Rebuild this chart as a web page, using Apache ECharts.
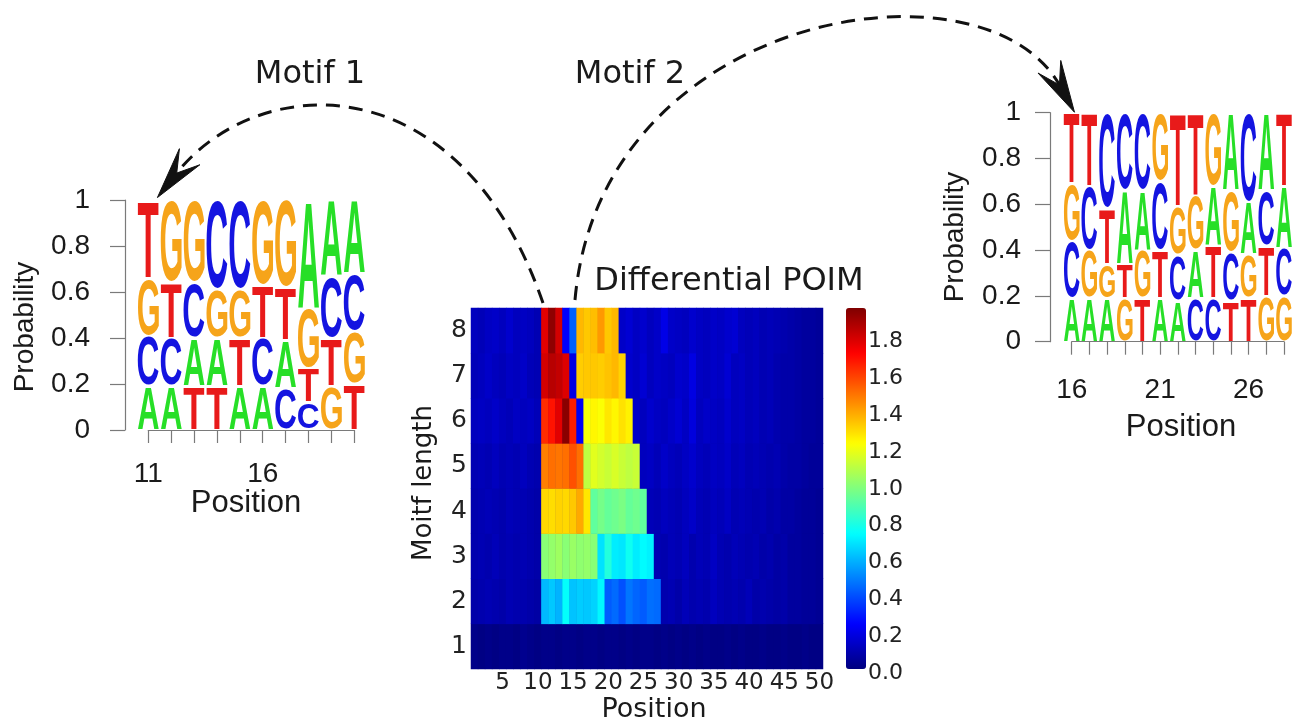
<!DOCTYPE html>
<html>
<head>
<meta charset="utf-8">
<script src="https://cdn.jsdelivr.net/npm/echarts@6/dist/echarts.min.js"></script>
<style>
  html, body { margin: 0; padding: 0; background: #ffffff; }
  #chart { width: 1301px; height: 726px; }
</style>
</head>
<body>
<div id="chart"></div>
<script>
// ---------------- Differential POIM (motif length x position) ----------------
const positions = ['1','2','3','4','5','6','7','8','9','10','11','12','13','14','15','16','17','18','19','20',
  '21','22','23','24','25','26','27','28','29','30','31','32','33','34','35','36','37','38','39','40',
  '41','42','43','44','45','46','47','48','49','50'];
const motifLengths = ['1','2','3','4','5','6','7','8'];

const len1 = [0.02,0.01,0.02,0.01,0.02,0.02,0.01,0.03,0.02,0.01, 0.02,0.02,0.01,0.02,0.02,0.01,0.02,0.02,0.01,0.02,
  0.02,0.01,0.02,0.01,0.02,0.02,0.01,0.02,0.01,0.02, 0.01,0.02,0.01,0.02,0.01,0.01,0.02,0.01,0.02,0.01,
  0.01,0.02,0.01,0.01,0.02,0.01,0.01,0.02,0.01,0.01];
const len2 = [0.08,0.09,0.10,0.09,0.08,0.10,0.09,0.09,0.08,0.07,
  0.60,0.63,0.59,0.74,0.62,0.64,0.63,0.65,0.72,0.42,0.45,0.40,0.47,0.44,0.42,0.46,0.45,
  0.09,0.10,0.08,0.11,0.09,0.10,0.09,0.12,0.10,0.09,0.10,0.09,0.11,0.08,0.09,0.08,0.07,0.08,0.06,0.06,0.05,0.05,0.04];
const len3 = [0.09,0.10,0.09,0.11,0.09,0.10,0.09,0.10,0.09,0.08,
  1.00,1.02,1.04,1.00,1.03,1.01,1.02,1.00,0.68,0.80,0.70,0.69,0.76,0.70,0.73,0.71,
  0.10,0.09,0.11,0.10,0.12,0.09,0.11,0.10,0.13,0.10,0.09,0.11,0.10,0.09,0.10,0.08,0.09,0.07,0.08,0.06,0.06,0.05,0.05,0.04];
const len4 = [0.09,0.10,0.11,0.10,0.09,0.11,0.10,0.10,0.09,0.08,
  1.30,1.29,1.31,1.30,1.33,1.39,1.27,0.92,0.96,0.93,0.95,0.97,0.93,0.95,0.92,
  0.11,0.10,0.12,0.11,0.10,0.12,0.14,0.11,0.10,0.12,0.11,0.13,0.10,0.11,0.10,0.09,0.10,0.08,0.09,0.07,0.07,0.06,0.05,0.05,0.04];
const len5 = [0.10,0.11,0.10,0.12,0.10,0.11,0.10,0.12,0.10,0.09,
  1.47,1.50,1.49,1.50,1.56,1.50,1.10,1.17,1.14,1.12,1.15,1.12,1.10,1.12,
  0.12,0.13,0.11,0.14,0.12,0.11,0.13,0.15,0.12,0.11,0.13,0.12,0.14,0.11,0.12,0.10,0.11,0.10,0.09,0.10,0.08,0.07,0.07,0.06,0.05,0.05];
const len6 = [0.12,0.13,0.12,0.14,0.12,0.11,0.13,0.12,0.13,0.11,
  1.63,1.68,1.77,1.94,1.66,0.23,1.21,1.24,1.22,1.27,1.24,1.28,1.25,
  0.14,0.12,0.15,0.13,0.12,0.14,0.16,0.13,0.18,0.12,0.14,0.13,0.12,0.15,0.12,0.13,0.11,0.12,0.10,0.11,0.09,0.08,0.08,0.07,0.06,0.06,0.05];
const len7 = [0.11,0.12,0.14,0.12,0.11,0.13,0.12,0.14,0.11,0.10,
  1.80,1.85,1.83,1.78,0.19,1.32,1.33,1.33,1.32,1.34,1.36,1.31,
  0.15,0.13,0.16,0.12,0.14,0.13,0.12,0.15,0.14,0.19,0.13,0.12,0.14,0.13,0.16,0.12,0.13,0.11,0.12,0.10,0.11,0.09,0.08,0.08,0.07,0.06,0.06,0.05];
const len8 = [0.12,0.11,0.13,0.14,0.12,0.15,0.12,0.13,0.12,0.10,
  1.77,1.93,1.80,0.24,0.43,1.36,1.33,1.35,1.42,1.33,1.36,
  0.14,0.16,0.13,0.15,0.12,0.14,0.20,0.14,0.13,0.12,0.15,0.13,0.12,0.14,0.13,0.15,0.16,0.12,0.11,0.12,0.10,0.11,0.10,0.09,0.08,0.07,0.06,0.06,0.05];

const colorbarMax = 1.96;
const colorbarTicks = ['0.0','0.2','0.4','0.6','0.8','1.0','1.2','1.4','1.6','1.8'];

// ---------------- Sequence logos (letters listed bottom to top) ----------------
const motif1Positions = [11,12,13,14,15,16,17,18,19,20];
const motif1Letters = ['ACGT','ACTG','TACG','TAGC','ATGC','ACTG','CATG','CTGA','GTCA','TGCA'];
const motif1Probs = [
  [0.19,0.22,0.25,0.34],[0.19,0.21,0.24,0.36],[0.19,0.21,0.24,0.36],[0.19,0.21,0.21,0.39],
  [0.19,0.21,0.21,0.39],[0.19,0.21,0.23,0.37],[0.18,0.21,0.23,0.38],[0.12,0.15,0.26,0.47],
  [0.19,0.21,0.27,0.33],[0.20,0.23,0.25,0.32]];
const motif1TickLabels = ['11','16'];

const motif2Positions = [16,17,18,19,20,21,22,23,24,25,26,27,28];
const motif2Letters = ['ACGT','AGCT','AGTC','GTAC','TGAC','ATCG','ACGT','CAGT','CTAG','TCGA','TGAC','GTCA','GCAT'];
const motif2Probs = [
  [0.19,0.25,0.25,0.31],[0.19,0.21,0.28,0.32],[0.19,0.15,0.24,0.42],[0.19,0.15,0.32,0.34],
  [0.19,0.21,0.26,0.34],[0.19,0.21,0.30,0.30],[0.18,0.20,0.21,0.41],[0.19,0.21,0.24,0.36],
  [0.19,0.23,0.26,0.32],[0.18,0.21,0.27,0.34],[0.19,0.19,0.23,0.39],[0.20,0.22,0.24,0.34],
  [0.20,0.21,0.27,0.32]];
const motif2TickLabels = ['16','21','26'];

const probTicks = ['0','0.2','0.4','0.6','0.8','1'];

// ---------------- styling ----------------
const JET = ['#00007f','#0000ff','#007fff','#00ffff','#7fff7f','#ffff00','#ff7f00','#ff0000','#7f0000'];
const letterColors = { A: '#27df27', C: '#1414e0', G: '#f6a41a', T: '#e81a1a' };
const PLOT_FONT = 'DejaVu Sans';
const LOGO_FONT = 'Liberation Sans';
const AXIS_GREY = '#7a7a7a';

// heatmap cells
const heatRows = [len1, len2, len3, len4, len5, len6, len7, len8];
const heatData = [];
heatRows.forEach((row, k) => row.forEach((v, i) => heatData.push([i, k, v])));

// stacked letters for a logo
function buildStack(pos, letters, probs) {
  const items = [];
  pos.forEach((p, c) => {
    let y = 0;
    letters[c].split('').forEach((ch, j) => {
      items.push({ pos: p, letter: ch, y0: y, y1: y + probs[c][j] });
      y += probs[c][j];
    });
  });
  return items;
}
const motif1Stack = buildStack(motif1Positions, motif1Letters, motif1Probs);
const motif2Stack = buildStack(motif2Positions, motif2Letters, motif2Probs);

// ink box of each glyph, measured around a centre/middle anchor
const mctx = document.createElement('canvas').getContext('2d');
mctx.font = 'bold 100px "' + LOGO_FONT + '"';
mctx.textAlign = 'center';
mctx.textBaseline = 'middle';
const inkBox = {};
'ACGT'.split('').forEach(ch => {
  const m = mctx.measureText(ch);
  inkBox[ch] = { l: m.actualBoundingBoxLeft, r: m.actualBoundingBoxRight,
                 a: m.actualBoundingBoxAscent, d: m.actualBoundingBoxDescent };
});

function logoRenderer(items) {
  return function (params, api) {
    const it = items[params.dataIndex];
    const tl = api.coord([it.pos - 0.5, it.y1]);
    const br = api.coord([it.pos + 0.5, it.y0]);
    const x0 = tl[0] + 1, x1 = br[0] - 1;
    const y0 = tl[1] + 1.2, y1 = br[1] - 1.2;
    const b = inkBox[it.letter];
    const sx = (x1 - x0) / (b.l + b.r);
    const sy = (y1 - y0) / (b.a + b.d);
    return {
      type: 'text',
      x: x0 + b.l * sx,
      y: y0 + b.a * sy,
      scaleX: sx,
      scaleY: sy,
      style: {
        text: it.letter, fontSize: 100, fontFamily: LOGO_FONT, fontWeight: 'bold',
        fill: letterColors[it.letter], align: 'center', verticalAlign: 'middle'
      }
    };
  };
}

function logoXAxis(gridIndex, pos, labels, margin) {
  return {
    type: 'value', gridIndex, min: pos[0], max: pos[pos.length - 1], interval: 1,
    offset: 13, splitLine: { show: false },
    axisLine: { show: true, lineStyle: { color: AXIS_GREY, width: 1.2 } },
    axisTick: { show: true, length: 13, lineStyle: { color: AXIS_GREY, width: 1.2 } },
    axisLabel: {
      margin, fontSize: 28, fontFamily: LOGO_FONT, color: '#1a1a1a',
      formatter: v => (labels.indexOf(String(v)) >= 0 ? String(v) : '')
    }
  };
}
function logoYAxis(gridIndex, offset, margin) {
  return {
    type: 'value', gridIndex, min: 0, max: 1, interval: 0.2, offset,
    splitLine: { show: false },
    axisLine: { show: true, lineStyle: { color: AXIS_GREY, width: 1.2 } },
    axisTick: { show: true, length: 15, lineStyle: { color: AXIS_GREY, width: 1.2 } },
    axisLabel: {
      margin, fontSize: 28, fontFamily: LOGO_FONT, color: '#1a1a1a',
      formatter: v => probTicks[Math.round(v * 5)]
    }
  };
}

// dashed arrows linking the heatmap to each logo
const arcs = [
  { p0: [543, 303], p1: [460, 62], p2: [258, 70], p3: [176, 174] },
  { p0: [575, 300], p1: [600, 10], p2: [985, -50], p3: [1060, 86] }
];
function arrowHead(a, len, half) {
  const dx = a.p3[0] - a.p2[0], dy = a.p3[1] - a.p2[1];
  const n = Math.hypot(dx, dy), ux = dx / n, uy = dy / n;
  const tip = [a.p3[0] + ux * 30, a.p3[1] + uy * 30];
  const px = -uy, py = ux;
  const bx = tip[0] - ux * len, by = tip[1] - uy * len;
  const nx = tip[0] - ux * len * 0.6, ny = tip[1] - uy * len * 0.6;
  return [tip, [bx + px * half, by + py * half], [nx, ny], [bx - px * half, by - py * half]];
}
const arrowGraphics = [];
arcs.forEach(a => {
  arrowGraphics.push({
    type: 'bezierCurve',
    shape: { x1: a.p0[0], y1: a.p0[1], cpx1: a.p1[0], cpy1: a.p1[1],
             cpx2: a.p2[0], cpy2: a.p2[1], x2: a.p3[0], y2: a.p3[1] },
    style: { stroke: '#111', lineWidth: 3, lineDash: [14, 9], fill: null }
  });
  arrowGraphics.push({
    type: 'polygon',
    shape: { points: arrowHead(a, 52, 13) },
    style: { fill: '#111', stroke: '#111', lineWidth: 1 }
  });
});

function label(text, x, y, size, family, rotate) {
  return {
    type: 'text', x, y, rotation: rotate ? Math.PI / 2 : 0,
    style: { text, fontSize: size, fontFamily: family, fill: '#1a1a1a',
             align: 'center', verticalAlign: 'middle' }
  };
}

const chart = echarts.init(document.getElementById('chart'), null, { renderer: 'canvas' });
chart.setOption({
  animation: false,
  backgroundColor: '#ffffff',
  grid: [
    { left: 148.3, top: 200, width: 206, height: 230 },            // logo 1
    { left: 1071.7, top: 112.7, width: 212.3, height: 229 },       // logo 2
    { left: 471, top: 308, width: 352, height: 361, show: true,     // heatmap
      backgroundColor: '#000085', borderWidth: 0 },
    { left: 846, top: 312, width: 20, height: 361 }                 // colorbar labels
  ],
  xAxis: [
    logoXAxis(0, motif1Positions, motif1TickLabels, 17),
    logoXAxis(1, motif2Positions, motif2TickLabels, 22),
    {
      type: 'category', gridIndex: 2, data: positions,
      axisLine: { show: false }, axisTick: { show: false }, splitLine: { show: false },
      axisLabel: { interval: (i) => (i + 1) % 5 === 0, margin: 3, fontSize: 23,
                   fontFamily: PLOT_FONT, color: '#222' }
    },
    { type: 'value', gridIndex: 3, show: false }
  ],
  yAxis: [
    logoYAxis(0, 23.3, 35),
    logoYAxis(1, 21.7, 29),
    {
      type: 'category', gridIndex: 2, data: motifLengths,
      axisLine: { show: false }, axisTick: { show: false }, splitLine: { show: false },
      axisLabel: { margin: 4, fontSize: 25, fontFamily: PLOT_FONT, color: '#222' }
    },
    {
      type: 'value', gridIndex: 3, position: 'right', min: 0, max: colorbarMax, interval: 0.2,
      axisLine: { show: false }, axisTick: { show: false }, splitLine: { show: false },
      axisLabel: { margin: 2, fontSize: 22, fontFamily: PLOT_FONT, color: '#222',
                   showMaxLabel: false,
                   formatter: v => colorbarTicks[Math.round(v * 5)] || '' }
    }
  ],
  visualMap: {
    type: 'continuous', seriesIndex: 0, min: 0, max: colorbarMax,
    calculable: false, hoverLink: false, orient: 'vertical',
    left: 846, top: 308, itemWidth: 20, itemHeight: 361, padding: 0,
    text: null, textStyle: { color: 'transparent' },
    inRange: { color: JET }
  },
  series: [
    {
      type: 'heatmap', xAxisIndex: 2, yAxisIndex: 2, data: heatData,
      itemStyle: { borderWidth: 0 }, emphasis: { disabled: true }, progressive: 0
    },
    {
      type: 'custom', xAxisIndex: 0, yAxisIndex: 0, clip: false, silent: true,
      data: motif1Stack.map(d => [d.pos, d.y0, d.y1]),
      encode: { x: 0, y: [1, 2] },
      renderItem: logoRenderer(motif1Stack)
    },
    {
      type: 'custom', xAxisIndex: 1, yAxisIndex: 1, clip: false, silent: true,
      data: motif2Stack.map(d => [d.pos, d.y0, d.y1]),
      encode: { x: 0, y: [1, 2] },
      renderItem: logoRenderer(motif2Stack)
    }
  ],
  graphic: arrowGraphics.concat([
    label('Differential POIM', 729, 282, 32, PLOT_FONT, false),
    label('Motif 1', 310, 75, 32, PLOT_FONT, false),
    label('Motif 2', 630, 75, 32, PLOT_FONT, false),
    label('Position', 654, 710, 27, PLOT_FONT, false),
    label('Moitf length', 424, 483, 26, PLOT_FONT, true),
    label('Position', 246, 503, 31, LOGO_FONT, false),
    label('Probability', 25, 327, 28, LOGO_FONT, true),
    label('Position', 1181, 427, 31, LOGO_FONT, false),
    label('Probability', 955, 237, 28, LOGO_FONT, true)
  ])
});
</script>
</body>
</html>
